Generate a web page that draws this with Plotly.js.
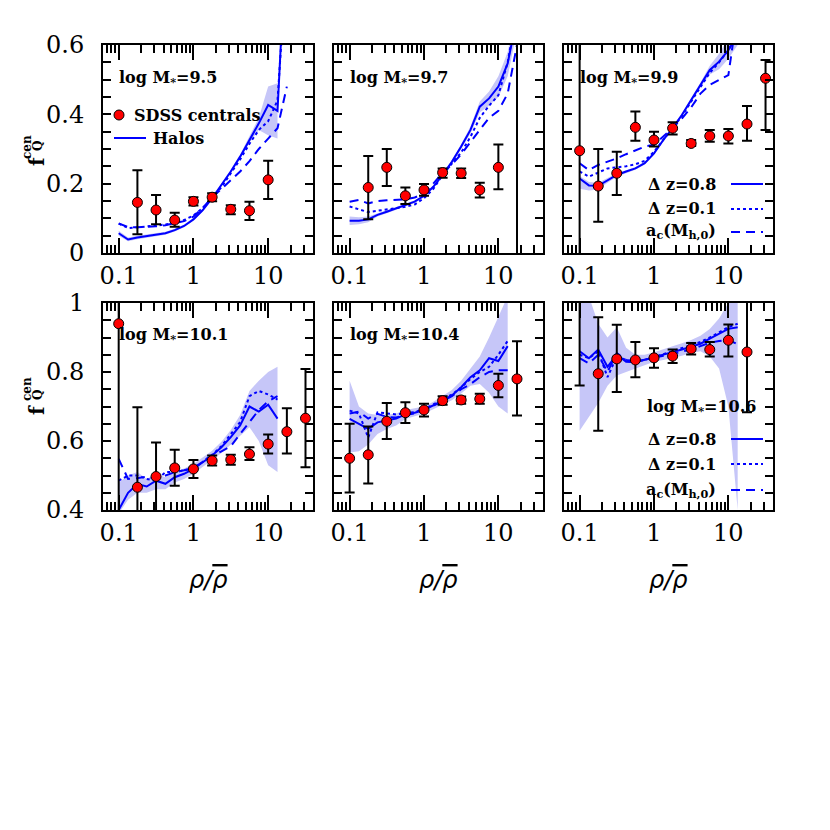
<!DOCTYPE html>
<html><head><meta charset="utf-8">
<script src="https://cdn.plot.ly/plotly-3.0.1.min.js"></script>
<style>body{margin:0;background:#fff}</style>
</head><body><div id="chart" style="width:830px;height:830px"></div>
<script>
// ---- SDSS centrals: x bins (rho / rho-bar)
const xSDSS = [0.1, 0.178, 0.316, 0.562, 1, 1.78, 3.16, 5.62, 10, 17.8, 31.6];
// values, upper and lower error-bar ends
const sdss95 = [null, 0.146, 0.124, 0.095, 0.149, 0.161, 0.126, 0.122, 0.211, null, null];
const sdss95Hi = [null, 0.239, 0.167, 0.116, 0.161, 0.172, 0.138, 0.148, 0.266, null, null];
const sdss95Lo = [null, 0.054, 0.083, 0.076, 0.137, 0.149, 0.112, 0.095, 0.156, null, null];
const sdss97 = [null, 0.189, 0.247, 0.165, 0.182, 0.232, 0.23, 0.182, 0.247, 0.75, null];
const sdss97Hi = [null, 0.28, 0.30, 0.189, 0.199, 0.244, 0.244, 0.203, 0.313, 0.95, null];
const sdss97Lo = [null, 0.097, 0.193, 0.141, 0.165, 0.217, 0.216, 0.16, 0.184, -0.1, null];
const sdss99 = [0.295, 0.193, 0.23, 0.3625, 0.326, 0.36, 0.316, 0.3375, 0.3375, 0.372, 0.504];
const sdss99Hi = [0.7, 0.30, 0.292, 0.408, 0.35, 0.377, 0.326, 0.355, 0.358, 0.424, 0.557];
const sdss99Lo = [-0.1, 0.09, 0.167, 0.324, 0.307, 0.342, 0.309, 0.321, 0.316, 0.324, 0.355];
const sdss101 = [0.94, 0.466, 0.497, 0.522, 0.519, 0.543, 0.546, 0.562, 0.591, 0.627, 0.666];
const sdss101Hi = [1.05, 0.698, 0.596, 0.575, 0.545, 0.558, 0.56, 0.582, 0.619, 0.695, 0.809];
const sdss101Lo = [0.3, 0.3, 0.35, 0.47, 0.493, 0.529, 0.531, 0.545, 0.564, 0.564, 0.524];
const sdss104 = [0.55, 0.56, 0.657, 0.682, 0.69, 0.717, 0.719, 0.722, 0.761, 0.78, null];
const sdss104Hi = [0.65, 0.642, 0.71, 0.712, 0.708, 0.73, 0.729, 0.737, 0.795, 0.889, null];
const sdss104Lo = [0.451, 0.477, 0.606, 0.652, 0.671, 0.705, 0.708, 0.708, 0.727, 0.674, null];
const sdss106 = [1.05, 0.795, 0.838, 0.835, 0.841, 0.846, 0.867, 0.865, 0.892, 0.858, null];
const sdss106Hi = [1.2, 0.959, 0.937, 0.887, 0.869, 0.865, 0.884, 0.887, 0.938, 1.1, null];
const sdss106Lo = [0.761, 0.63, 0.742, 0.785, 0.812, 0.826, 0.851, 0.845, 0.845, 0.683, null];

// ---- Halo model curves, sampled on a common rho/rho-bar grid
const xHalo = [0.1, 0.1334, 0.1778, 0.2371, 0.3162, 0.4217, 0.5623, 0.7499, 1, 1.334, 1.778, 2.371, 3.162, 4.217, 5.623, 7.499, 10, 13.34, 17.78];
const dz08_95 = [0.057, 0.039, 0.045, 0.049, 0.052, 0.057, 0.066, 0.078, 0.097, 0.124, 0.158, 0.196, 0.235, 0.278, 0.326, 0.374, 0.427, 0.41, 0.95];
const dz01_95 = [0.085, 0.072, 0.074, 0.076, 0.078, 0.082, 0.087, 0.095, 0.108, 0.13, 0.158, 0.19, 0.23, 0.27, 0.315, 0.355, 0.38, 0.44, 0.85];
const ac_95 = [0.085, 0.075, 0.074, 0.075, 0.077, 0.08, 0.085, 0.092, 0.105, 0.13, 0.16, 0.185, 0.21, 0.235, 0.265, 0.30, 0.33, 0.36, 0.48];
const bandLo_95 = [0.05, 0.034, 0.04, 0.045, 0.048, 0.053, 0.062, 0.074, 0.093, 0.12, 0.154, 0.191, 0.23, 0.272, 0.318, 0.355, 0.34, 0.33, null];
const bandHi_95 = [0.064, 0.045, 0.05, 0.053, 0.056, 0.061, 0.07, 0.082, 0.101, 0.128, 0.162, 0.201, 0.24, 0.284, 0.335, 0.39, 0.48, 0.49, null];

const dz08_97 = [0.093, 0.093, 0.097, 0.11, 0.119, 0.129, 0.138, 0.148, 0.165, 0.191, 0.225, 0.263, 0.307, 0.355, 0.422, 0.446, 0.48, 0.547, 0.68];
const dz01_97 = [0.134, 0.127, 0.118, 0.122, 0.125, 0.128, 0.133, 0.14, 0.158, 0.185, 0.225, 0.258, 0.29, 0.335, 0.39, 0.425, 0.455, 0.55, 0.7];
const ac_97 = [0.148, 0.153, 0.143, 0.15, 0.152, 0.153, 0.155, 0.16, 0.172, 0.2, 0.232, 0.255, 0.285, 0.32, 0.355, 0.39, 0.41, 0.46, 0.6];
const bandLo_97 = [0.081, 0.083, 0.089, 0.105, 0.115, 0.125, 0.134, 0.144, 0.161, 0.187, 0.221, 0.258, 0.3, 0.345, 0.405, 0.425, 0.45, 0.51, 0.64];
const bandHi_97 = [0.105, 0.103, 0.105, 0.115, 0.123, 0.133, 0.142, 0.152, 0.169, 0.195, 0.229, 0.268, 0.314, 0.365, 0.437, 0.466, 0.51, 0.58, 0.72];

const dz08_99 = [0.215, 0.195, 0.194, 0.21, 0.225, 0.235, 0.244, 0.259, 0.2875, 0.326, 0.36, 0.398, 0.441, 0.485, 0.528, 0.552, 0.585, 0.63, null];
const dz01_99 = [0.235, 0.22, 0.232, 0.244, 0.247, 0.25, 0.256, 0.266, 0.292, 0.326, 0.358, 0.395, 0.437, 0.48, 0.52, 0.55, 0.585, 0.64, null];
const ac_99 = [0.259, 0.239, 0.254, 0.263, 0.273, 0.285, 0.297, 0.307, 0.312, 0.336, 0.36, 0.388, 0.42, 0.46, 0.485, 0.499, 0.513, 0.70, null];
const bandLo_99 = [0.185, 0.18, 0.183, 0.203, 0.22, 0.231, 0.24, 0.255, 0.283, 0.322, 0.356, 0.393, 0.435, 0.478, 0.515, 0.53, 0.56, 0.6, null];
const bandHi_99 = [0.222, 0.205, 0.203, 0.216, 0.23, 0.239, 0.248, 0.263, 0.292, 0.33, 0.364, 0.403, 0.447, 0.492, 0.54, 0.575, 0.62, 0.67, null];

const dz08_101 = [0.40, 0.45, 0.475, 0.468, 0.485, 0.476, 0.495, 0.505, 0.519, 0.538, 0.558, 0.582, 0.611, 0.645, 0.70, 0.685, 0.705, 0.665, null];
const dz01_101 = [0.485, 0.50, 0.50, 0.49, 0.485, 0.51, 0.51, 0.515, 0.52, 0.54, 0.56, 0.585, 0.62, 0.655, 0.73, 0.745, 0.735, 0.72, null];
const ac_101 = [0.548, 0.49, 0.492, 0.497, 0.49, 0.50, 0.51, 0.515, 0.522, 0.54, 0.558, 0.57, 0.585, 0.62, 0.655, 0.69, 0.715, 0.73, null];
const bandLo_101 = [0.39, 0.43, 0.45, 0.45, 0.46, 0.46, 0.48, 0.49, 0.505, 0.525, 0.545, 0.565, 0.59, 0.615, 0.64, 0.60, 0.53, 0.51, null];
const bandHi_101 = [0.48, 0.50, 0.51, 0.49, 0.505, 0.495, 0.51, 0.52, 0.533, 0.552, 0.572, 0.598, 0.632, 0.675, 0.745, 0.775, 0.80, 0.815, null];

const dz08_104 = [0.664, 0.65, 0.635, 0.654, 0.659, 0.665, 0.677, 0.682, 0.69, 0.703, 0.717, 0.732, 0.756, 0.785, 0.805, 0.84, 0.832, 0.875, null];
const dz01_104 = [0.688, 0.68, 0.61, 0.683, 0.68, 0.677, 0.68, 0.684, 0.692, 0.705, 0.72, 0.735, 0.755, 0.78, 0.80, 0.815, 0.85, 0.89, null];
const ac_104 = [0.68, 0.685, 0.665, 0.679, 0.67, 0.668, 0.675, 0.68, 0.69, 0.702, 0.715, 0.73, 0.75, 0.765, 0.785, 0.80, 0.805, 0.805, null];
const bandLo_104 = [0.567, 0.57, 0.59, 0.62, 0.635, 0.645, 0.664, 0.672, 0.68, 0.692, 0.705, 0.718, 0.738, 0.76, 0.765, 0.74, 0.70, 0.68, null];
const bandHi_104 = [0.775, 0.70, 0.68, 0.675, 0.676, 0.68, 0.69, 0.695, 0.70, 0.714, 0.73, 0.748, 0.775, 0.81, 0.845, 0.90, 0.96, 1.02, null];

const dz08_106 = [0.86, 0.84, 0.865, 0.815, 0.85, 0.83, 0.828, 0.835, 0.843, 0.85, 0.857, 0.865, 0.873, 0.882, 0.897, 0.912, 0.925, 0.93, null];
const dz01_106 = [0.85, 0.84, 0.86, 0.785, 0.845, 0.835, 0.83, 0.835, 0.843, 0.852, 0.86, 0.868, 0.877, 0.887, 0.90, 0.915, 0.93, 0.94, null];
const ac_106 = [0.84, 0.825, 0.85, 0.80, 0.855, 0.835, 0.83, 0.835, 0.84, 0.847, 0.853, 0.86, 0.865, 0.875, 0.885, 0.89, 0.893, 0.88, null];
const bandLo_106 = [0.63, 0.67, 0.71, 0.76, 0.79, 0.80, 0.81, 0.82, 0.83, 0.835, 0.84, 0.847, 0.855, 0.86, 0.845, 0.81, 0.70, 0.40, null];
const bandHi_106 = [1.02, 1.02, 0.94, 0.90, 0.93, 0.87, 0.85, 0.85, 0.857, 0.865, 0.874, 0.883, 0.893, 0.905, 0.925, 0.955, 1.0, 1.02, null];

// ---- labels / ticks
const panelLabels = ['9.5', '9.7', '9.9', '10.1', '10.4', '10.6'];
const xTickVals = [0.1, 1, 10];
const xTickText = ['0.1', '1', '10'];
const xMinorVals = [0.07, 0.08, 0.09, 0.2, 0.3, 0.4, 0.5, 0.6, 0.7, 0.8, 0.9, 2, 3, 4, 5, 6, 7, 8, 9, 20, 30];
const yTopVals = [0, 0.05, 0.1, 0.15, 0.2, 0.25, 0.3, 0.35, 0.4, 0.45, 0.5, 0.55, 0.6];
const yTopText = ['0', ' ', ' ', ' ', '0.2', ' ', ' ', ' ', '0.4', ' ', ' ', ' ', '0.6'];
const yBotVals = [0.4, 0.45, 0.5, 0.55, 0.6, 0.65, 0.7, 0.75, 0.8, 0.85, 0.9, 0.95, 1];
const yBotText = ['0.4', ' ', ' ', ' ', '0.6', ' ', ' ', ' ', '0.8', ' ', ' ', ' ', '1'];
const legendNames = ['Δ z=0.8', 'Δ z=0.1', 'a<sub>c</sub>(M<sub>h,0</sub>)'];

const panels = [
  {s: sdss95, hi: sdss95Hi, lo: sdss95Lo, a: dz08_95, b: dz01_95, c: ac_95, bl: bandLo_95, bh: bandHi_95},
  {s: sdss97, hi: sdss97Hi, lo: sdss97Lo, a: dz08_97, b: dz01_97, c: ac_97, bl: bandLo_97, bh: bandHi_97},
  {s: sdss99, hi: sdss99Hi, lo: sdss99Lo, a: dz08_99, b: dz01_99, c: ac_99, bl: bandLo_99, bh: bandHi_99},
  {s: sdss101, hi: sdss101Hi, lo: sdss101Lo, a: dz08_101, b: dz01_101, c: ac_101, bl: bandLo_101, bh: bandHi_101},
  {s: sdss104, hi: sdss104Hi, lo: sdss104Lo, a: dz08_104, b: dz01_104, c: ac_104, bl: bandLo_104, bh: bandHi_104},
  {s: sdss106, hi: sdss106Hi, lo: sdss106Lo, a: dz08_106, b: dz01_106, c: ac_106, bl: bandLo_106, bh: bandHi_106}
];

const BLUE = 'rgb(0,0,255)';
const BAND = 'rgb(198,198,248)';
const TICKC = 'black';
const W = 830, H = 830;
const colDom = [[103, 313], [334, 543], [564, 773]];
const rowDom = [[45, 253], [303, 510]];
const TICKFONT = {family: 'DejaVu Serif', size: 24, color: 'black'};
const LBLFONT = {family: 'DejaVu Serif', size: 16, color: 'black', weight: 'bold'};

const data = [];
const layout = {
  width: W, height: H, margin: {l: 0, r: 0, t: 0, b: 0},
  paper_bgcolor: 'white', plot_bgcolor: 'white', showlegend: false,
  annotations: [], shapes: []
};

panels.forEach((p, i) => {
  const n = i + 1;
  const xa = n === 1 ? 'x' : 'x' + n, ya = n === 1 ? 'y' : 'y' + n;
  const row = i < 3 ? 0 : 1, col = i % 3;
  const xd = colDom[col], yd = rowDom[row];
  layout['xaxis' + (n === 1 ? '' : n)] = {
    type: 'log', range: [-1.21, 1.6], domain: [xd[0] / W, xd[1] / W], anchor: ya,
    showline: true, linecolor: 'black', linewidth: 2, mirror: 'allticks',
    ticks: 'inside', ticklen: 15, tickwidth: 2, tickcolor: TICKC,
    tickmode: 'array', tickvals: xTickVals, ticktext: xTickText, tickfont: TICKFONT,
    minor: {tickmode: 'array', tickvals: xMinorVals, ticks: 'inside', ticklen: 8, tickwidth: 2, tickcolor: TICKC, showgrid: false},
    showgrid: false, zeroline: false
  };
  layout['yaxis' + (n === 1 ? '' : n)] = {
    range: row === 0 ? [0, 0.6] : [0.4, 1], domain: [1 - yd[1] / H, 1 - yd[0] / H], anchor: xa,
    showline: true, linecolor: 'black', linewidth: 2, mirror: 'allticks',
    ticks: 'inside', ticklen: 8, tickwidth: 2, tickcolor: TICKC,
    tickmode: 'array', tickvals: row === 0 ? yTopVals : yBotVals, ticktext: row === 0 ? yTopText : yBotText,
    showticklabels: col === 0, tickfont: TICKFONT, ticklabelstandoff: 12,
    showgrid: false, zeroline: false
  };

  data.push({x: xHalo, y: p.bl, xaxis: xa, yaxis: ya, mode: 'lines', line: {width: 0, color: BAND}, hoverinfo: 'skip'});
  data.push({x: xHalo, y: p.bh, xaxis: xa, yaxis: ya, mode: 'lines', line: {width: 0, color: BAND}, fill: 'tonexty', fillcolor: BAND, hoverinfo: 'skip'});
  data.push({x: xHalo, y: p.a, xaxis: xa, yaxis: ya, mode: 'lines', line: {color: BLUE, width: 2}});
  data.push({x: xHalo, y: p.b, xaxis: xa, yaxis: ya, mode: 'lines', line: {color: BLUE, width: 2, dash: 'dot'}});
  data.push({x: xHalo, y: p.c, xaxis: xa, yaxis: ya, mode: 'lines', line: {color: BLUE, width: 2, dash: '9px,6px'}});
  const plus = p.s.map((v, k) => v === null ? null : p.hi[k] - v);
  const minus = p.s.map((v, k) => v === null ? null : v - p.lo[k]);
  data.push({x: xSDSS, y: p.s, xaxis: xa, yaxis: ya, mode: 'markers',
    marker: {color: 'red', size: 10, line: {color: 'black', width: 1}},
    error_y: {type: 'data', symmetric: false, array: plus, arrayminus: minus, color: 'black', thickness: 2, width: 5}});

  const dx = xa + ' domain', dy = ya + ' domain';
  const lblText = 'log M<sub>*</sub>=' + panelLabels[i];
  if (i === 5) {
    layout.annotations.push({xref: dx, yref: dy, x: (758 - xd[0]) / (xd[1] - xd[0]), y: (yd[1] - 407) / (yd[1] - yd[0]),
      xanchor: 'right', yanchor: 'middle', text: lblText, showarrow: false, font: LBLFONT});
  } else {
    layout.annotations.push({xref: dx, yref: dy, x: 14 / (xd[1] - xd[0]),
      y: row === 0 ? (yd[1] - 78) / (yd[1] - yd[0]) : (yd[1] - 335) / (yd[1] - yd[0]),
      xanchor: 'left', yanchor: 'middle', text: lblText, showarrow: false, font: LBLFONT});
  }
  if (row === 1) {
    layout.annotations.push({xref: 'paper', yref: 'paper', x: (xd[0] + xd[1]) / 2 / W, y: 1 - 580 / H,
      xanchor: 'center', yanchor: 'middle', showarrow: false,
      text: '<i>ρ/<span style="text-decoration:overline">ρ</span></i>',
      font: {family: 'DejaVu Sans', size: 24, color: 'black'}});
  }
  if (i === 2 || i === 5) {
    const ys = i === 2 ? [184, 209, 232] : [439, 464, 490];
    const dashes = ['solid', 'dot', '9px,6px'];
    ys.forEach((yy, j) => {
      const yf = (yd[1] - yy) / (yd[1] - yd[0]);
      layout.annotations.push({xref: dx, yref: dy, x: (718 - xd[0]) / (xd[1] - xd[0]), y: yf,
        xanchor: 'right', yanchor: 'middle', text: legendNames[j], showarrow: false, font: LBLFONT});
      layout.shapes.push({type: 'line', xref: dx, yref: dy, x0: (731 - xd[0]) / (xd[1] - xd[0]), x1: (763 - xd[0]) / (xd[1] - xd[0]),
        y0: yf, y1: yf, line: {color: BLUE, width: 2, dash: dashes[j]}});
    });
  }
});

const d1x = 'x domain', d1y = 'y domain';
const px1 = x => (x - 103) / 210, py1 = y => (253 - y) / 208;
layout.shapes.push({type: 'circle', xref: d1x, yref: d1y, xsizemode: 'pixel', ysizemode: 'pixel',
  xanchor: px1(119), yanchor: py1(115), x0: -5, x1: 5, y0: -5, y1: 5,
  fillcolor: 'red', line: {color: 'black', width: 1}});
layout.annotations.push({xref: d1x, yref: d1y, x: px1(132), y: py1(115), xanchor: 'left', yanchor: 'middle',
  text: 'SDSS centrals', showarrow: false, font: LBLFONT});
layout.shapes.push({type: 'line', xref: d1x, yref: d1y, x0: px1(114), x1: px1(146), y0: py1(138), y1: py1(138),
  line: {color: BLUE, width: 2}});
layout.annotations.push({xref: d1x, yref: d1y, x: px1(151), y: py1(138), xanchor: 'left', yanchor: 'middle',
  text: 'Halos', showarrow: false, font: LBLFONT});

[0, 256].forEach(off => {
  layout.annotations.push({xref: 'paper', yref: 'paper', x: 23 / W, y: 1 - (154 + off) / H, textangle: -90,
    text: 'f', showarrow: false, font: {family: 'DejaVu Serif', size: 20, color: 'black', weight: 'bold'}});
  layout.annotations.push({xref: 'paper', yref: 'paper', x: 18 / W, y: 1 - (133 + off) / H, textangle: -90,
    text: 'cen', showarrow: false, font: {family: 'DejaVu Serif', size: 12, color: 'black', weight: 'bold'}});
  layout.annotations.push({xref: 'paper', yref: 'paper', x: 29 / W, y: 1 - (139 + off) / H, textangle: -90,
    text: 'Q', showarrow: false, font: {family: 'DejaVu Serif', size: 12, color: 'black', weight: 'bold'}});
});

Plotly.newPlot('chart', data, layout, {staticPlot: true});
</script>
</body></html>
